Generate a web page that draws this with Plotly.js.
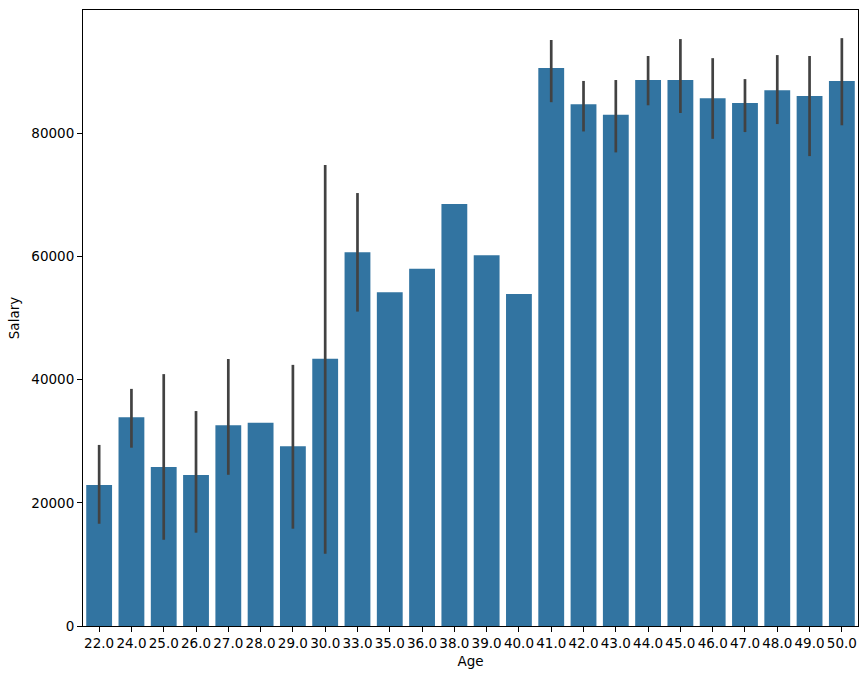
<!DOCTYPE html>
<html>
<head>
<meta charset="utf-8">
<script src="https://cdn.plot.ly/plotly-3.0.1.min.js"></script>
<style>html,body{margin:0;padding:0;background:#fff;}#chart{width:868px;height:679px;}</style>
</head>
<body>
<div id="chart"></div>
<script>
const ages = ["22.0","24.0","25.0","26.0","27.0","28.0","29.0","30.0","33.0","35.0","36.0","38.0","39.0","40.0","41.0","42.0","43.0","44.0","45.0","46.0","47.0","48.0","49.0","50.0"];
const salary = [22900,33900,25800,24500,32600,33000,29200,43400,60700,54200,58000,68500,60200,53900,90600,84700,83000,88650,88650,85700,84900,87000,86050,88500];
const ciHigh = [29400,38500,40900,34900,43350,null,42400,74850,70300,null,null,null,null,null,95150,88500,88650,92550,95300,92200,88800,92700,92550,95450];
const ciLow = [16600,28950,14000,15150,24550,null,15800,11750,51050,null,null,null,null,null,85050,80300,76900,84550,83300,79100,80200,81500,76300,81300];

const errPlus = salary.map((v,i)=> ciHigh[i]===null ? 0 : ciHigh[i]-v);
const errMinus = salary.map((v,i)=> ciLow[i]===null ? 0 : v-ciLow[i]);

const trace = {
  type: 'bar',
  x: ages,
  y: salary,
  width: 0.8,
  marker: {color: '#3274a1', line: {width: 0}},
  error_y: {type: 'data', symmetric: false, array: errPlus, arrayminus: errMinus, color: '#424242', thickness: 2.7, width: 0, visible: true},
  hoverinfo: 'x+y'
};

const font = {family: 'DejaVu Sans, sans-serif', size: 13.5, color: '#000'};
const layout = {
  width: 868, height: 679,
  margin: {l: 83, r: 10, t: 10, b: 53},
  paper_bgcolor: '#fff', plot_bgcolor: '#fff',
  font: font,
  showlegend: false,
  bargap: 0.2,
  xaxis: {
    type: 'category', range: [-0.5, 23.5],
    showline: true, linecolor: '#000', linewidth: 1, mirror: true,
    ticks: 'outside', ticklen: 5, tickwidth: 1, tickcolor: '#000',
    showgrid: false, zeroline: false,
    tickfont: font,
    title: {text: 'Age', font: font, standoff: 6}
  },
  yaxis: {
    range: [0, 100020],
    tickvals: [0,20000,40000,60000,80000],
    ticktext: ['0','20000','40000','60000','80000'],
    showline: true, linecolor: '#000', linewidth: 1, mirror: true,
    ticks: 'outside', ticklen: 5, tickwidth: 1, tickcolor: '#000',
    showgrid: false, zeroline: false,
    tickfont: font,
    title: {text: 'Salary', font: font, standoff: 8}
  }
};
Plotly.newPlot('chart', [trace], layout, {displayModeBar: false, staticPlot: true});
</script>
</body>
</html>
